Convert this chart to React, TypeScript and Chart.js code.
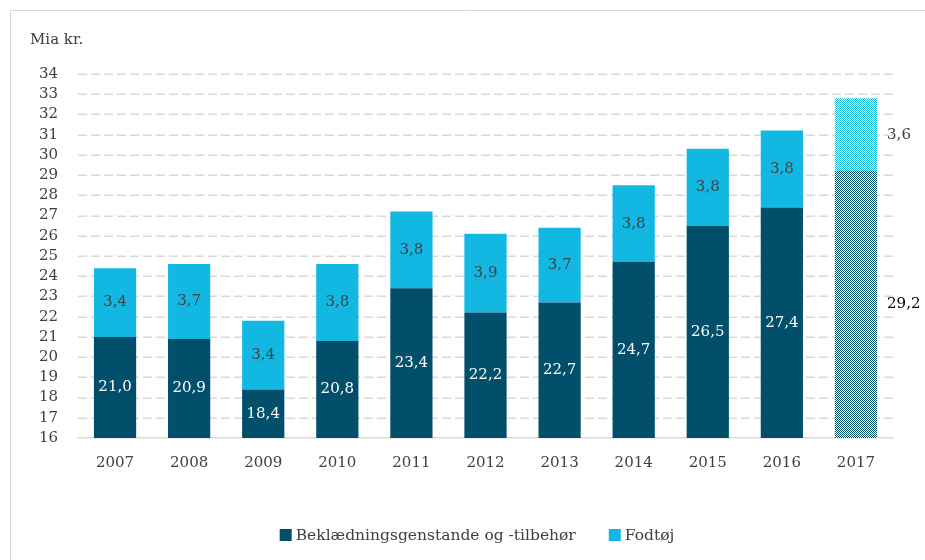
import React, { useEffect, useRef } from "react";
import { Chart, registerables } from "chart.js";

Chart.register(...registerables);

const categories = ["2007", "2008", "2009", "2010", "2011", "2012", "2013", "2014", "2015", "2016", "2017"];
const apparel = [21.0, 20.9, 18.4, 20.8, 23.4, 22.2, 22.7, 24.7, 26.5, 27.4, 29.2];
const footwear = [3.4, 3.7, 3.4, 3.8, 3.8, 3.9, 3.7, 3.8, 3.8, 3.8, 3.6];
const seriesNames = ["Beklædningsgenstande og -tilbehør", "Fodtøj"];
const forecastCategory = "2017";
const yMin = 16;
const yMax = 34;
const unitLabel = "Mia kr.";

const DARK = "#014f6a";
const CYAN = "#13b8e2";
const FONT = "'DejaVu Serif', serif";

function makeChecker(color: string): CanvasPattern | string {
  const c = document.createElement("canvas");
  c.width = 2;
  c.height = 2;
  const g = c.getContext("2d");
  if (!g) return color;
  g.fillStyle = "#ffffff";
  g.fillRect(0, 0, 2, 2);
  g.fillStyle = color;
  g.fillRect(0, 0, 1, 1);
  g.fillRect(1, 1, 1, 1);
  const p = g.createPattern(c, "repeat");
  return p || color;
}

const fmt = (v: number) => v.toFixed(1).replace(".", ",");

export default function App() {
  const ref = useRef<HTMLCanvasElement>(null);

  useEffect(() => {
    if (!ref.current) return;
    const fIdx = categories.indexOf(forecastCategory);
    const darkPat = makeChecker(DARK);
    const cyanPat = makeChecker(CYAN);
    const darkBg = categories.map((_, i) => (i === fIdx ? darkPat : DARK));
    const cyanBg = categories.map((_, i) => (i === fIdx ? cyanPat : CYAN));

    const framePlugin = {
      id: "frame",
      beforeDraw(chart: any) {
        const ctx = chart.ctx;
        ctx.save();
        ctx.fillStyle = "#ffffff";
        ctx.fillRect(0, 0, chart.width, chart.height);
        ctx.strokeStyle = "#d9d9d9";
        ctx.lineWidth = 1;
        ctx.beginPath();
        ctx.moveTo(10.5, chart.height);
        ctx.lineTo(10.5, 10.5);
        ctx.lineTo(chart.width, 10.5);
        ctx.stroke();
        ctx.fillStyle = "#404040";
        ctx.font = `15px ${FONT}`;
        ctx.textAlign = "left";
        ctx.textBaseline = "middle";
        ctx.fillText(unitLabel, 30, 40);
        ctx.restore();
      },
      beforeDatasetsDraw(chart: any) {
        const ctx = chart.ctx;
        const ys = chart.scales.y;
        const area = chart.chartArea;
        ctx.save();
        ctx.strokeStyle = "#d9d9d9";
        ctx.lineWidth = 1.5;
        ctx.setLineDash([9, 4]);
        ys.ticks.forEach((t: any) => {
          if (t.value === yMin) return;
          const y = Math.round(ys.getPixelForValue(t.value)) + 0.25;
          ctx.beginPath();
          ctx.moveTo(area.left, y);
          ctx.lineTo(area.right, y);
          ctx.stroke();
        });
        ctx.restore();
      },
    };

    const labelPlugin = {
      id: "barLabels",
      afterDatasetsDraw(chart: any) {
        const ctx = chart.ctx;
        const ys = chart.scales.y;
        ctx.save();
        ctx.font = `15px ${FONT}`;
        ctx.textBaseline = "middle";
        [apparel, footwear].forEach((vals, di) => {
          const meta = chart.getDatasetMeta(di);
          meta.data.forEach((bar: any, j: number) => {
            const start = di === 0 ? 0 : apparel[j];
            const end = start + vals[j];
            const vs = Math.max(start, ys.min);
            const y = ys.getPixelForValue((vs + end) / 2);
            let x = bar.x;
            if (j === fIdx) {
              ctx.textAlign = "left";
              x = bar.x + bar.width / 2 + 10;
              ctx.fillStyle = di === 0 ? "#000000" : "#404040";
            } else {
              ctx.textAlign = "center";
              ctx.fillStyle = di === 0 ? "#ffffff" : "#404040";
            }
            ctx.fillText(fmt(vals[j]), x, y);
          });
        });
        ctx.restore();
      },
    };

    const legendPlugin = {
      id: "customLegend",
      afterDraw(chart: any) {
        const ctx = chart.ctx;
        ctx.save();
        ctx.font = `15.5px ${FONT}`;
        ctx.textBaseline = "middle";
        ctx.textAlign = "left";
        const box = 12;
        const gap = 4;
        const itemGap = 33;
        const colors = [DARK, CYAN];
        const widths = seriesNames.map((n) => box + gap + ctx.measureText(n).width);
        const total = widths.reduce((a, b) => a + b, 0) + itemGap * (seriesNames.length - 1);
        let x = 477 - total / 2;
        const y = 535;
        seriesNames.forEach((n, i) => {
          ctx.fillStyle = colors[i];
          ctx.fillRect(x, y - box / 2, box, box);
          ctx.fillStyle = "#404040";
          ctx.fillText(n, x + box + gap, y + 1);
          x += widths[i] + itemGap;
        });
        ctx.restore();
      },
    };

    const chart = new Chart(ref.current, {
      type: "bar",
      data: {
        labels: categories,
        datasets: [
          { label: seriesNames[0], data: apparel, backgroundColor: darkBg as any, borderWidth: 0 },
          { label: seriesNames[1], data: footwear, backgroundColor: cyanBg as any, borderWidth: 0 },
        ],
      },
      options: {
        responsive: false,
        animation: false,
        layout: { padding: { top: 74, left: 0, right: 32, bottom: 0 } },
        plugins: { legend: { display: false }, tooltip: { enabled: false } },
        datasets: { bar: { categoryPercentage: 0.57, barPercentage: 1 } },
        scales: {
          x: {
            stacked: true,
            grid: { display: false, drawTicks: false },
            border: { display: true, color: "#d9d9d9", width: 1.5 },
            ticks: { color: "#404040", font: { family: FONT, size: 15 }, padding: 16 },
            afterFit(scale: any) {
              scale.height = 122;
            },
          },
          y: {
            stacked: true,
            min: yMin,
            max: yMax,
            grid: { display: false, drawTicks: false },
            border: { display: false },
            ticks: {
              stepSize: 1,
              autoSkip: false,
              color: "#404040",
              font: { family: FONT, size: 15 },
              padding: 20,
            },
            afterFit(scale: any) {
              scale.width = 78;
            },
          },
        },
      },
      plugins: [framePlugin, labelPlugin, legendPlugin],
    });
    return () => chart.destroy();
  }, []);

  return (
    <div style={{ position: "fixed", left: 0, top: 0, width: 925, height: 560, background: "#fff" }}>
      <canvas ref={ref} width={925} height={560} />
    </div>
  );
}
